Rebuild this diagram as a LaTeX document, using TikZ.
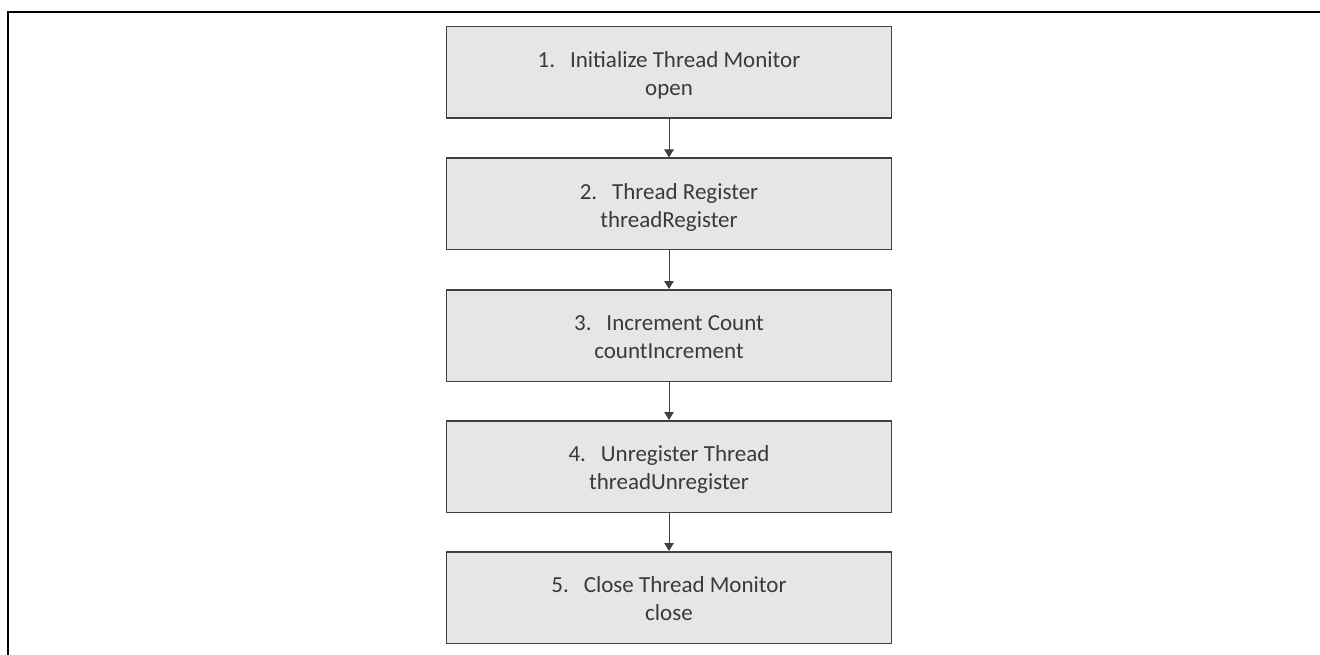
\documentclass[tikz,border=0pt]{standalone}
\usepackage{fontspec}
\setmainfont{Carlito}
\usetikzlibrary{arrows.meta}
\definecolor{boxfill}{HTML}{E7E6E6}
\definecolor{boxline}{HTML}{404040}
\definecolor{txtcol}{HTML}{3A3A3A}
\tikzset{
  stepbox/.style={draw=boxline, line width=1.5pt, fill=boxfill, inner sep=0pt,
    minimum width=445pt, text height=41pt, text depth=50.5pt, anchor=north,
    text=txtcol, font=\fontsize{23}{28}\selectfont},
  flowarrow/.style={draw=boxline, line width=1pt, -{Triangle[width=9.5pt,length=8pt]}},
  frameline/.style={draw=black, line width=2.5pt}
}
\newcommand{\twolines}[2]{\begin{tabular}[t]{@{}c@{}}#1\\#2\end{tabular}}
\begin{document}
\begin{tikzpicture}[x=1pt,y=-1pt]
\useasboundingbox (0,0) rectangle (1320,655);
\coordinate (fc) at (8.2,12);
\coordinate (fr) at (1320,12);
\coordinate (fb) at (8.2,655);
\draw[frameline] (fb) -- (fc) -- (fr);
\node[stepbox] (s1) at (669,26)    {\twolines{1.\hspace{0.65em}Initialize Thread Monitor}{open}};
\node[stepbox] (s2) at (669,157.5) {\twolines{2.\hspace{0.65em}Thread Register}{threadRegister}};
\node[stepbox] (s3) at (669,289)   {\twolines{3.\hspace{0.65em}Increment Count}{countIncrement}};
\node[stepbox] (s4) at (669,420)   {\twolines{4.\hspace{0.65em}Unregister Thread}{threadUnregister}};
\node[stepbox] (s5) at (669,551)   {\twolines{5.\hspace{0.65em}Close Thread Monitor}{close}};
\draw[flowarrow] (s1.south) -- (s2.north);
\draw[flowarrow] (s2.south) -- (s3.north);
\draw[flowarrow] (s3.south) -- (s4.north);
\draw[flowarrow] (s4.south) -- (s5.north);
\end{tikzpicture}
\end{document}
